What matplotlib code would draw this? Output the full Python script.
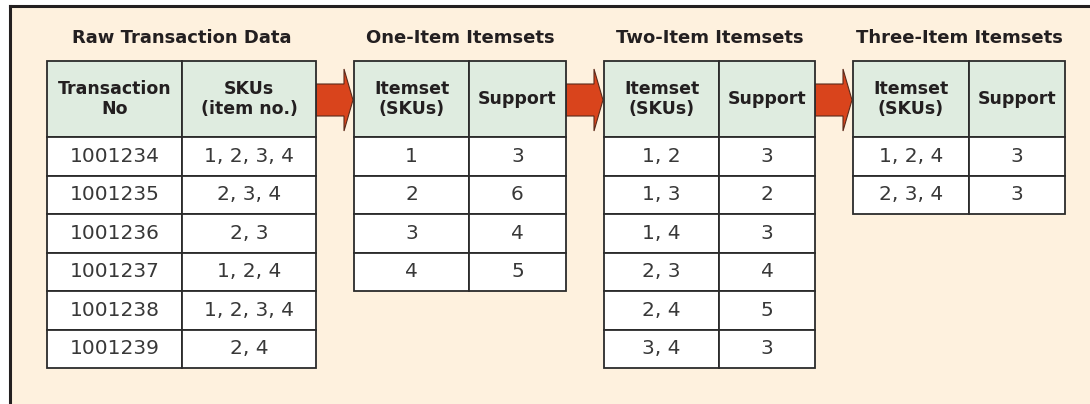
import matplotlib.pyplot as plt
from matplotlib.patches import Rectangle, Polygon

# table contents
titles = ["Raw Transaction Data", "One-Item Itemsets", "Two-Item Itemsets", "Three-Item Itemsets"]
headers = [
    ["Transaction\nNo", "SKUs\n(item no.)"],
    ["Itemset\n(SKUs)", "Support"],
    ["Itemset\n(SKUs)", "Support"],
    ["Itemset\n(SKUs)", "Support"],
]
raw_txn = ["1001234", "1001235", "1001236", "1001237", "1001238", "1001239"]
raw_skus = ["1, 2, 3, 4", "2, 3, 4", "2, 3", "1, 2, 4", "1, 2, 3, 4", "2, 4"]
one_items = ["1", "2", "3", "4"]
one_support = [3, 6, 4, 5]
two_items = ["1, 2", "1, 3", "1, 4", "2, 3", "2, 4", "3, 4"]
two_support = [3, 2, 3, 4, 5, 3]
three_items = ["1, 2, 4", "2, 3, 4"]
three_support = [3, 3]

tables = [
    (raw_txn, raw_skus),
    (one_items, one_support),
    (two_items, two_support),
    (three_items, three_support),
]

# layout (pixels)
lefts = [47, 354, 604, 853]
col_w = [(135, 134), (115, 97), (115, 96), (116, 96)]
head_top = 61
head_h = 76
row_h = 38.5

bg = "#FEF1DE"
head_fill = "#DFECE0"
line_col = "#2b2b2b"
arrow_col = "#D9441C"
text_col = "#231F20"

fig = plt.figure(figsize=(10.9, 4.04), dpi=100)
ax = fig.add_axes([0, 0, 1, 1])
ax.set_xlim(0, 1090)
ax.set_ylim(404, 0)
ax.axis("off")

# cream panel with left/top frame
ax.add_patch(Rectangle((9.5, 6), 1100, 420, facecolor=bg, edgecolor="none", zorder=0))
ax.plot([9.5, 9.5], [6, 404], color="#231F20", lw=2.2, zorder=1)
ax.plot([9.5, 1090], [6, 6], color="#231F20", lw=2.2, zorder=1)

for t, (title, hdr, (c1, c2), x0, (w1, w2)) in enumerate(zip(titles, headers, tables, lefts, col_w)):
    total_w = w1 + w2
    ax.text(x0 + total_w / 2, 38, title, ha="center", va="center",
            fontsize=13, fontweight="bold", color=text_col)
    # header
    xs = [x0, x0 + w1]
    ws = [w1, w2]
    for j in range(2):
        ax.add_patch(Rectangle((xs[j], head_top), ws[j], head_h, facecolor=head_fill,
                               edgecolor=line_col, lw=1.3, zorder=2))
        ax.text(xs[j] + ws[j] / 2, head_top + head_h / 2, hdr[j], ha="center", va="center",
                fontsize=12.5, fontweight="bold", color=text_col, linespacing=1.2, zorder=3)
    # body
    for i, (a, b) in enumerate(zip(c1, c2)):
        y = head_top + head_h + i * row_h
        for j, val in enumerate([a, b]):
            ax.add_patch(Rectangle((xs[j], y), ws[j], row_h, facecolor="white",
                                   edgecolor=line_col, lw=1.3, zorder=2))
            ax.text(xs[j] + ws[j] / 2, y + row_h / 2, str(val), ha="center", va="center",
                    fontsize=14.5, color="#383838", zorder=3)
    # arrow to next table
    if t < len(lefts) - 1:
        xa = x0 + total_w
        xb = lefts[t + 1]
        yc = head_top + head_h / 2 + 1
        head_x = xb - 10
        pts = [(xa, yc - 16), (head_x, yc - 16), (head_x, yc - 31), (xb - 1, yc),
               (head_x, yc + 31), (head_x, yc + 16), (xa, yc + 16)]
        ax.add_patch(Polygon(pts, closed=True, facecolor=arrow_col, edgecolor="#5a2a1a",
                             lw=0.8, zorder=1.5))

fig.savefig("out.png", dpi=100)
